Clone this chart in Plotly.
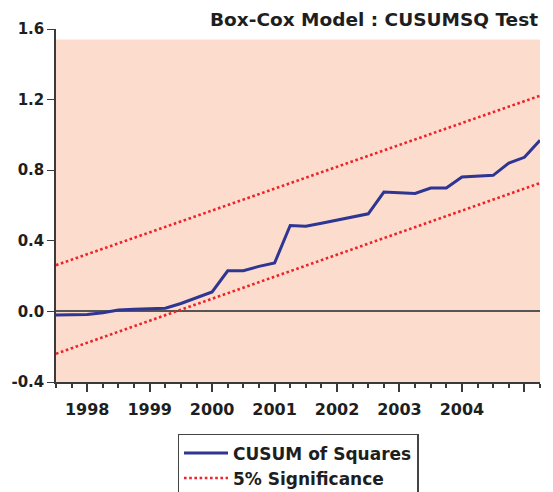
import plotly.graph_objects as go

# Quarter index: 0 = 1998Q1
quarters = list(range(-2, 30))
cusum_sq = [-0.021, -0.020, -0.018, -0.008, 0.008, 0.012, 0.016, 0.018,
            0.045, 0.076, 0.110, 0.230, 0.231, 0.255, 0.274, 0.487,
            0.482, 0.499, 0.518, 0.535, 0.553, 0.676, 0.671, 0.668,
            0.699, 0.699, 0.761, 0.765, 0.771, 0.840, 0.873, 0.969]
sig_x = [-2, 29]
sig_upper = [0.262, 1.222]
sig_lower = [-0.240, 0.727]

year_pos = [0, 4, 8, 12, 16, 20, 24, 28]
year_labels = ["1998", "1999", "2000", "2001", "2002", "2003", "2004", ""]
y_ticks = [-0.4, 0.0, 0.4, 0.8, 1.2, 1.6]
y_labels = ["-0.4", "0.0", "0.4", "0.8", "1.2", "1.6"]

FONT = "DejaVu Sans"
AX = "#3a3a3a"
TXT = "#1e1e1e"

fig = go.Figure()
fig.add_trace(go.Scatter(x=quarters, y=cusum_sq, mode="lines", name="CUSUM of Squares",
                         line=dict(color="#2E3592", width=3)))
fig.add_trace(go.Scatter(x=sig_x, y=sig_upper, mode="lines", name="5% Significance",
                         line=dict(color="#EE2229", width=2.6, dash="2.6px,2.6px")))
fig.add_trace(go.Scatter(x=sig_x, y=sig_lower, mode="lines", name="5% Significance",
                         showlegend=False,
                         line=dict(color="#EE2229", width=2.6, dash="2.6px,2.6px")))

fig.add_shape(type="rect", xref="paper", yref="y", x0=0, x1=1, y0=-0.4, y1=1.54,
              fillcolor="#FCDDCD", line=dict(width=0), layer="below")

# page body has an 8px margin, so the figure is offset by 8px; margins compensate
fig.update_layout(
    width=553, height=492,
    margin=dict(l=48, r=21, t=21, b=118, autoexpand=False),
    plot_bgcolor="white", paper_bgcolor="white",
    font=dict(family=FONT, color=TXT, size=16, weight=700),
    showlegend=True,
    legend=dict(x=0.5, xanchor="center", y=-0.147, yanchor="top",
                bordercolor="#444", borderwidth=1.5, bgcolor="white",
                font=dict(family=FONT, size=17, color=TXT, weight=700),
                tracegroupgap=0, itemwidth=44),
    annotations=[dict(text="Box-Cox Model : CUSUMSQ Test", xref="paper", yref="paper",
                      x=1.0, y=1.0, xanchor="right", yanchor="bottom", yshift=-3,
                      showarrow=False,
                      font=dict(family=FONT, size=18.5, color=TXT, weight=700))],
)
fig.update_xaxes(range=[-2, 29], tickmode="array", tickvals=year_pos, ticktext=year_labels,
                 ticks="outside", ticklen=8, tickwidth=1.5, tickcolor=AX, automargin=False,
                 ticklabelstandoff=4,
                 showline=True, linecolor=AX, linewidth=1.5, showgrid=False, zeroline=False,
                 tickfont=dict(family=FONT, size=16, color=TXT, weight=700),
                 minor=dict(tickmode="linear", tick0=0, dtick=1, ticks="outside",
                            ticklen=4, tickwidth=1.5, tickcolor=AX, showgrid=False))
fig.update_yaxes(range=[-0.4, 1.6], tickmode="array", tickvals=y_ticks, ticktext=y_labels,
                 ticks="outside", ticklen=7, tickwidth=1.2, tickcolor=AX, automargin=False,
                 showline=True, linecolor=AX, linewidth=1.5, showgrid=False,
                 zeroline=True, zerolinecolor="#555", zerolinewidth=1.5,
                 tickfont=dict(family=FONT, size=15, color=TXT, weight=700))

fig.write_html("out.html")
